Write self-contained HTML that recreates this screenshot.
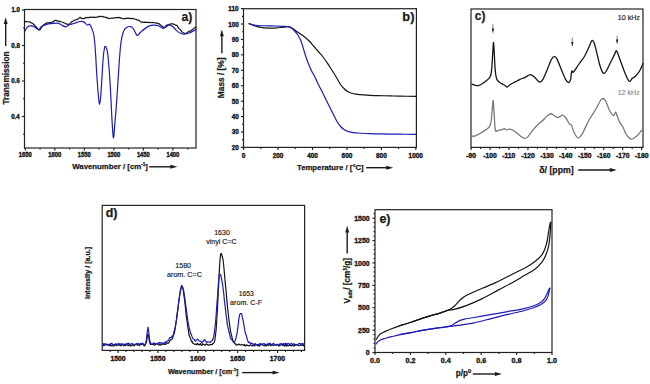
<!DOCTYPE html>
<html><head><meta charset="utf-8"><style>
html,body{margin:0;padding:0;background:#fff;}
body{width:650px;height:384px;overflow:hidden;}
svg{display:block;font-family:"Liberation Sans",sans-serif;}
</style></head><body>
<svg width="650" height="384" viewBox="0 0 650 384">
<rect x="0" y="0" width="650" height="384" fill="#fff"/>
<rect x="24.50" y="9.50" width="171.50" height="138.50" fill="none" stroke="#222222" stroke-width="1.20"/>
<line x1="21.90" y1="10.00" x2="24.50" y2="10.00" stroke="#222222" stroke-width="1.15"/>
<text x="11.403" y="2.157" font-size="6.076" font-weight="bold" fill="#1a1a1a" stroke="#1a1a1a" stroke-width="0.38" transform="translate(0,10.000) scale(1,1.100)">1.0</text>
<line x1="21.90" y1="45.50" x2="24.50" y2="45.50" stroke="#222222" stroke-width="1.15"/>
<text x="11.340" y="2.157" font-size="6.076" font-weight="bold" fill="#1a1a1a" stroke="#1a1a1a" stroke-width="0.38" transform="translate(0,45.500) scale(1,1.100)">0.8</text>
<line x1="21.90" y1="81.00" x2="24.50" y2="81.00" stroke="#222222" stroke-width="1.15"/>
<text x="11.373" y="2.157" font-size="6.076" font-weight="bold" fill="#1a1a1a" stroke="#1a1a1a" stroke-width="0.38" transform="translate(0,81.000) scale(1,1.100)">0.6</text>
<line x1="21.90" y1="116.50" x2="24.50" y2="116.50" stroke="#222222" stroke-width="1.15"/>
<text x="11.186" y="2.157" font-size="6.076" font-weight="bold" fill="#1a1a1a" stroke="#1a1a1a" stroke-width="0.38" transform="translate(0,116.500) scale(1,1.100)">0.4</text>
<line x1="23.00" y1="27.75" x2="24.50" y2="27.75" stroke="#222222" stroke-width="1.15"/>
<line x1="23.00" y1="63.25" x2="24.50" y2="63.25" stroke="#222222" stroke-width="1.15"/>
<line x1="23.00" y1="98.75" x2="24.50" y2="98.75" stroke="#222222" stroke-width="1.15"/>
<line x1="23.00" y1="134.25" x2="24.50" y2="134.25" stroke="#222222" stroke-width="1.15"/>
<line x1="25.30" y1="148.00" x2="25.30" y2="150.60" stroke="#222222" stroke-width="1.15"/>
<text x="18.805" y="2.053" font-size="5.782" font-weight="bold" fill="#1a1a1a" stroke="#1a1a1a" stroke-width="0.38" transform="translate(0,154.800) scale(1,1.100)">1650</text>
<line x1="54.83" y1="148.00" x2="54.83" y2="150.60" stroke="#222222" stroke-width="1.15"/>
<text x="48.330" y="2.053" font-size="5.782" font-weight="bold" fill="#1a1a1a" stroke="#1a1a1a" stroke-width="0.38" transform="translate(0,154.800) scale(1,1.100)">1600</text>
<line x1="84.35" y1="148.00" x2="84.35" y2="150.60" stroke="#222222" stroke-width="1.15"/>
<text x="77.855" y="2.053" font-size="5.782" font-weight="bold" fill="#1a1a1a" stroke="#1a1a1a" stroke-width="0.38" transform="translate(0,154.800) scale(1,1.100)">1550</text>
<line x1="113.88" y1="148.00" x2="113.88" y2="150.60" stroke="#222222" stroke-width="1.15"/>
<text x="107.380" y="2.053" font-size="5.782" font-weight="bold" fill="#1a1a1a" stroke="#1a1a1a" stroke-width="0.38" transform="translate(0,154.800) scale(1,1.100)">1500</text>
<line x1="143.40" y1="148.00" x2="143.40" y2="150.60" stroke="#222222" stroke-width="1.15"/>
<text x="136.905" y="2.053" font-size="5.782" font-weight="bold" fill="#1a1a1a" stroke="#1a1a1a" stroke-width="0.38" transform="translate(0,154.800) scale(1,1.100)">1450</text>
<line x1="172.93" y1="148.00" x2="172.93" y2="150.60" stroke="#222222" stroke-width="1.15"/>
<text x="166.430" y="2.053" font-size="5.782" font-weight="bold" fill="#1a1a1a" stroke="#1a1a1a" stroke-width="0.38" transform="translate(0,154.800) scale(1,1.100)">1400</text>
<line x1="40.06" y1="148.00" x2="40.06" y2="149.50" stroke="#222222" stroke-width="1.15"/>
<line x1="69.59" y1="148.00" x2="69.59" y2="149.50" stroke="#222222" stroke-width="1.15"/>
<line x1="99.11" y1="148.00" x2="99.11" y2="149.50" stroke="#222222" stroke-width="1.15"/>
<line x1="128.64" y1="148.00" x2="128.64" y2="149.50" stroke="#222222" stroke-width="1.15"/>
<line x1="158.16" y1="148.00" x2="158.16" y2="149.50" stroke="#222222" stroke-width="1.15"/>
<line x1="187.69" y1="148.00" x2="187.69" y2="149.50" stroke="#222222" stroke-width="1.15"/>
<text x="72.292" y="169.400" font-size="7.793" font-weight="bold" fill="#1a1a1a" stroke="#1a1a1a" stroke-width="0.25">Wavenumber / [cm<tspan font-size="4.676" dy="-3.507">-1</tspan><tspan dy="3.507">]</tspan></text>
<line x1="149.20" y1="166.80" x2="170.80" y2="166.80" stroke="#1a1a1a" stroke-width="1.40"/>
<path d="M177.30,166.80 L170.30,164.85 L170.30,168.75 Z" fill="#1a1a1a"/>
<text x="-0.093" y="0" font-size="8.244" font-weight="bold" fill="#1a1a1a" stroke="#1a1a1a" stroke-width="0.25" transform="translate(8.800,104.500) rotate(-90)">Transmission</text>
<line x1="5.70" y1="46.00" x2="5.70" y2="23.60" stroke="#1a1a1a" stroke-width="1.40"/>
<path d="M5.70,17.30 L3.75,24.10 L7.65,24.10 Z" fill="#1a1a1a"/>
<text x="181.542" y="20.700" font-size="12.221" font-weight="bold" fill="#1a1a1a" stroke="#1a1a1a" stroke-width="0.25">a)</text>
<path d="M25.00,21.32 L25.63,21.57 L26.53,21.50 L27.57,21.77 L28.60,21.99 L29.44,21.83 L30.34,22.09 L31.25,23.01 L32.12,22.99 L32.90,23.41 L33.71,24.57 L34.40,24.92 L35.07,25.94 L35.80,26.48 L36.47,27.37 L37.19,27.95 L37.91,29.17 L38.63,30.00 L39.30,30.02 L39.90,29.92 L40.44,29.23 L40.97,27.94 L41.54,27.50 L42.20,26.56 L42.84,25.73 L43.53,24.86 L44.26,24.76 L45.01,23.84 L45.77,23.46 L46.50,23.17 L47.56,22.79 L48.61,22.95 L49.68,22.65 L50.80,22.81 L51.60,22.28 L52.44,22.22 L53.30,21.73 L54.16,20.76 L55.00,20.44 L55.80,20.30 L56.92,20.85 L57.99,20.74 L59.04,21.24 L60.10,21.36 L60.96,21.76 L61.82,21.97 L62.68,22.24 L63.54,22.69 L64.40,22.96 L65.48,23.58 L66.55,23.86 L67.62,24.33 L68.70,24.25 L69.56,23.95 L70.42,23.07 L71.28,21.93 L72.14,21.65 L73.00,21.13 L73.88,20.68 L74.79,20.14 L75.68,19.98 L76.53,19.38 L77.30,19.53 L78.37,18.70 L79.29,17.82 L80.20,17.29 L81.09,18.06 L81.96,18.66 L83.00,18.31 L83.90,18.69 L84.88,18.12 L85.99,17.61 L87.30,17.46 L88.06,17.71 L88.90,17.72 L89.79,17.10 L90.72,17.46 L91.67,17.02 L92.63,17.45 L93.58,17.14 L94.50,17.47 L95.42,17.46 L96.37,17.03 L97.33,17.27 L98.28,16.68 L99.21,16.42 L100.10,16.71 L100.94,16.27 L101.70,16.39 L102.97,16.68 L104.00,17.10 L104.96,17.09 L106.00,17.28 L106.89,18.04 L107.76,17.85 L108.67,18.47 L109.67,18.54 L110.80,18.21 L111.62,18.22 L112.54,18.15 L113.52,18.09 L114.53,17.89 L115.54,17.70 L116.51,17.60 L117.41,17.73 L118.20,17.40 L119.46,17.54 L120.44,18.11 L121.39,18.17 L122.50,18.46 L123.39,18.97 L124.35,18.63 L125.36,18.58 L126.38,18.12 L127.40,18.35 L128.40,18.46 L129.39,18.10 L130.39,18.56 L131.39,18.64 L132.37,18.33 L133.32,18.84 L134.20,18.88 L135.19,19.26 L136.13,19.32 L137.02,19.89 L137.84,20.24 L138.60,20.07 L139.51,20.66 L140.26,21.67 L141.50,22.32 L142.22,21.94 L143.07,22.18 L144.02,22.34 L145.02,22.21 L146.04,22.28 L147.06,22.28 L148.02,22.36 L148.90,22.57 L149.98,22.41 L151.00,22.50 L151.99,22.80 L152.93,22.31 L153.83,22.75 L154.70,22.96 L155.67,22.82 L156.56,22.92 L157.41,23.55 L158.24,23.43 L159.10,23.78 L159.83,24.44 L160.57,25.27 L161.30,25.55 L162.03,26.36 L162.77,26.86 L163.50,27.43 L164.38,26.99 L165.26,26.77 L166.14,25.61 L167.02,25.06 L167.90,24.81 L169.00,24.62 L170.11,24.07 L171.21,23.79 L172.30,23.73 L173.18,24.13 L174.06,24.09 L174.93,24.80 L175.78,25.22 L176.60,25.28 L177.25,25.92 L177.88,27.00 L178.49,27.68 L179.09,28.61 L179.69,29.08 L180.30,29.64 L181.03,30.57 L181.75,31.76 L182.48,32.17 L183.22,32.83 L184.00,33.24 L185.03,33.29 L186.11,32.98 L187.20,32.84 L188.30,31.76 L189.19,31.16 L190.11,31.23 L191.01,30.55 L191.89,30.00 L192.70,29.05 L193.68,28.76 L194.62,28.12 L195.43,27.08 L196.00,27.07" fill="none" stroke="#151515" stroke-width="1.20" stroke-linejoin="round" stroke-linecap="round" />
<path d="M25.00,31.00 C25.48,30.25 26.58,27.30 27.90,26.50 C29.22,25.70 31.58,25.97 32.90,26.20 C34.22,26.43 34.85,27.33 35.80,27.90 C36.75,28.47 37.65,29.83 38.60,29.60 C39.55,29.37 40.18,27.38 41.50,26.50 C42.82,25.62 44.83,24.78 46.50,24.30 C48.17,23.82 49.58,23.78 51.50,23.60 C53.42,23.42 56.33,22.97 58.00,23.20 C59.67,23.43 60.20,24.40 61.50,25.00 C62.80,25.60 64.48,26.83 65.80,26.80 C67.12,26.77 67.97,25.38 69.40,24.80 C70.83,24.22 72.60,23.85 74.40,23.30 C76.20,22.75 78.63,21.73 80.20,21.50 C81.77,21.27 82.62,21.32 83.80,21.90 C84.98,22.48 86.35,24.60 87.30,25.00 C88.25,25.40 88.78,23.82 89.50,24.30 C90.22,24.78 90.88,26.12 91.60,27.90 C92.32,29.68 93.20,31.65 93.80,35.00 C94.40,38.35 94.67,40.83 95.20,48.00 C95.73,55.17 96.43,69.67 97.00,78.00 C97.57,86.33 98.18,93.62 98.60,98.00 C99.02,102.38 99.17,104.30 99.50,104.30 C99.83,104.30 100.22,102.05 100.60,98.00 C100.98,93.95 101.37,86.67 101.80,80.00 C102.23,73.33 102.75,63.33 103.20,58.00 C103.65,52.67 104.12,49.95 104.50,48.00 C104.88,46.05 105.15,46.22 105.50,46.30 C105.85,46.38 106.18,46.88 106.60,48.50 C107.02,50.12 107.40,49.92 108.00,56.00 C108.60,62.08 109.53,74.33 110.20,85.00 C110.87,95.67 111.47,111.20 112.00,120.00 C112.53,128.80 112.93,137.13 113.40,137.80 C113.87,138.47 114.30,129.47 114.80,124.00 C115.30,118.53 115.83,112.67 116.40,105.00 C116.97,97.33 117.67,86.00 118.20,78.00 C118.73,70.00 119.12,63.08 119.60,57.00 C120.08,50.92 120.48,45.67 121.10,41.50 C121.72,37.33 122.45,34.30 123.30,32.00 C124.15,29.70 124.98,28.60 126.20,27.70 C127.42,26.80 129.38,26.37 130.60,26.60 C131.82,26.83 132.68,28.03 133.50,29.10 C134.32,30.17 134.83,31.95 135.50,33.00 C136.17,34.05 136.62,35.57 137.50,35.40 C138.38,35.23 139.15,33.42 140.80,32.00 C142.45,30.58 145.33,28.03 147.40,26.90 C149.47,25.77 151.37,25.38 153.20,25.20 C155.03,25.02 156.68,25.27 158.40,25.80 C160.12,26.33 161.80,28.50 163.50,28.40 C165.20,28.30 167.13,25.57 168.60,25.20 C170.07,24.83 170.97,25.30 172.30,26.20 C173.63,27.10 175.15,29.38 176.60,30.60 C178.05,31.82 179.65,32.90 181.00,33.50 C182.35,34.10 183.23,34.32 184.70,34.20 C186.17,34.08 187.92,33.57 189.80,32.80 C191.68,32.03 194.97,30.13 196.00,29.60" fill="none" stroke="#1c1cb4" stroke-width="1.20" stroke-linejoin="round" stroke-linecap="round" />
<rect x="243.50" y="8.70" width="172.90" height="138.70" fill="none" stroke="#222222" stroke-width="1.20"/>
<line x1="240.90" y1="147.40" x2="243.50" y2="147.40" stroke="#222222" stroke-width="1.15"/>
<text x="231.776" y="2.261" font-size="6.370" font-weight="bold" fill="#1a1a1a" stroke="#1a1a1a" stroke-width="0.38" transform="translate(0,147.400) scale(1,1.100)">20</text>
<line x1="240.90" y1="131.98" x2="243.50" y2="131.98" stroke="#222222" stroke-width="1.15"/>
<text x="231.776" y="2.261" font-size="6.370" font-weight="bold" fill="#1a1a1a" stroke="#1a1a1a" stroke-width="0.38" transform="translate(0,131.978) scale(1,1.100)">30</text>
<line x1="240.90" y1="116.56" x2="243.50" y2="116.56" stroke="#222222" stroke-width="1.15"/>
<text x="231.776" y="2.261" font-size="6.370" font-weight="bold" fill="#1a1a1a" stroke="#1a1a1a" stroke-width="0.38" transform="translate(0,116.556) scale(1,1.100)">40</text>
<line x1="240.90" y1="101.13" x2="243.50" y2="101.13" stroke="#222222" stroke-width="1.15"/>
<text x="231.776" y="2.261" font-size="6.370" font-weight="bold" fill="#1a1a1a" stroke="#1a1a1a" stroke-width="0.38" transform="translate(0,101.134) scale(1,1.100)">50</text>
<line x1="240.90" y1="85.71" x2="243.50" y2="85.71" stroke="#222222" stroke-width="1.15"/>
<text x="231.776" y="2.261" font-size="6.370" font-weight="bold" fill="#1a1a1a" stroke="#1a1a1a" stroke-width="0.38" transform="translate(0,85.712) scale(1,1.100)">60</text>
<line x1="240.90" y1="70.29" x2="243.50" y2="70.29" stroke="#222222" stroke-width="1.15"/>
<text x="231.776" y="2.261" font-size="6.370" font-weight="bold" fill="#1a1a1a" stroke="#1a1a1a" stroke-width="0.38" transform="translate(0,70.290) scale(1,1.100)">70</text>
<line x1="240.90" y1="54.87" x2="243.50" y2="54.87" stroke="#222222" stroke-width="1.15"/>
<text x="231.776" y="2.261" font-size="6.370" font-weight="bold" fill="#1a1a1a" stroke="#1a1a1a" stroke-width="0.38" transform="translate(0,54.868) scale(1,1.100)">80</text>
<line x1="240.90" y1="39.45" x2="243.50" y2="39.45" stroke="#222222" stroke-width="1.15"/>
<text x="231.776" y="2.261" font-size="6.370" font-weight="bold" fill="#1a1a1a" stroke="#1a1a1a" stroke-width="0.38" transform="translate(0,39.446) scale(1,1.100)">90</text>
<line x1="240.90" y1="24.02" x2="243.50" y2="24.02" stroke="#222222" stroke-width="1.15"/>
<text x="228.233" y="2.261" font-size="6.370" font-weight="bold" fill="#1a1a1a" stroke="#1a1a1a" stroke-width="0.38" transform="translate(0,24.024) scale(1,1.100)">100</text>
<line x1="240.90" y1="8.60" x2="243.50" y2="8.60" stroke="#222222" stroke-width="1.15"/>
<text x="228.233" y="2.261" font-size="6.370" font-weight="bold" fill="#1a1a1a" stroke="#1a1a1a" stroke-width="0.38" transform="translate(0,8.602) scale(1,1.100)">110</text>
<line x1="242.00" y1="139.69" x2="243.50" y2="139.69" stroke="#222222" stroke-width="1.15"/>
<line x1="242.00" y1="124.27" x2="243.50" y2="124.27" stroke="#222222" stroke-width="1.15"/>
<line x1="242.00" y1="108.84" x2="243.50" y2="108.84" stroke="#222222" stroke-width="1.15"/>
<line x1="242.00" y1="93.42" x2="243.50" y2="93.42" stroke="#222222" stroke-width="1.15"/>
<line x1="242.00" y1="78.00" x2="243.50" y2="78.00" stroke="#222222" stroke-width="1.15"/>
<line x1="242.00" y1="62.58" x2="243.50" y2="62.58" stroke="#222222" stroke-width="1.15"/>
<line x1="242.00" y1="47.16" x2="243.50" y2="47.16" stroke="#222222" stroke-width="1.15"/>
<line x1="242.00" y1="31.73" x2="243.50" y2="31.73" stroke="#222222" stroke-width="1.15"/>
<line x1="242.00" y1="16.31" x2="243.50" y2="16.31" stroke="#222222" stroke-width="1.15"/>
<line x1="243.60" y1="147.40" x2="243.60" y2="150.00" stroke="#222222" stroke-width="1.15"/>
<text x="241.806" y="2.296" font-size="6.468" font-weight="bold" fill="#1a1a1a" stroke="#1a1a1a" stroke-width="0.38" transform="translate(0,155.400) scale(1,1.100)">0</text>
<line x1="278.04" y1="147.40" x2="278.04" y2="150.00" stroke="#222222" stroke-width="1.15"/>
<text x="272.669" y="2.296" font-size="6.468" font-weight="bold" fill="#1a1a1a" stroke="#1a1a1a" stroke-width="0.38" transform="translate(0,155.400) scale(1,1.100)">200</text>
<line x1="312.49" y1="147.40" x2="312.49" y2="150.00" stroke="#222222" stroke-width="1.15"/>
<text x="307.176" y="2.296" font-size="6.468" font-weight="bold" fill="#1a1a1a" stroke="#1a1a1a" stroke-width="0.38" transform="translate(0,155.400) scale(1,1.100)">400</text>
<line x1="346.93" y1="147.40" x2="346.93" y2="150.00" stroke="#222222" stroke-width="1.15"/>
<text x="341.550" y="2.296" font-size="6.468" font-weight="bold" fill="#1a1a1a" stroke="#1a1a1a" stroke-width="0.38" transform="translate(0,155.400) scale(1,1.100)">600</text>
<line x1="381.38" y1="147.40" x2="381.38" y2="150.00" stroke="#222222" stroke-width="1.15"/>
<text x="376.010" y="2.296" font-size="6.468" font-weight="bold" fill="#1a1a1a" stroke="#1a1a1a" stroke-width="0.38" transform="translate(0,155.400) scale(1,1.100)">800</text>
<line x1="415.82" y1="147.40" x2="415.82" y2="150.00" stroke="#222222" stroke-width="1.15"/>
<text x="408.555" y="2.296" font-size="6.468" font-weight="bold" fill="#1a1a1a" stroke="#1a1a1a" stroke-width="0.38" transform="translate(0,155.400) scale(1,1.100)">1000</text>
<line x1="260.82" y1="147.40" x2="260.82" y2="148.90" stroke="#222222" stroke-width="1.15"/>
<line x1="295.27" y1="147.40" x2="295.27" y2="148.90" stroke="#222222" stroke-width="1.15"/>
<line x1="329.71" y1="147.40" x2="329.71" y2="148.90" stroke="#222222" stroke-width="1.15"/>
<line x1="364.15" y1="147.40" x2="364.15" y2="148.90" stroke="#222222" stroke-width="1.15"/>
<line x1="398.60" y1="147.40" x2="398.60" y2="148.90" stroke="#222222" stroke-width="1.15"/>
<text x="297.013" y="170.300" font-size="7.757" font-weight="bold" fill="#1a1a1a" stroke="#1a1a1a" stroke-width="0.25">Temperature / [°C]</text>
<line x1="366.10" y1="167.70" x2="386.70" y2="167.70" stroke="#1a1a1a" stroke-width="1.40"/>
<path d="M393.20,167.70 L386.20,165.75 L386.20,169.65 Z" fill="#1a1a1a"/>
<text x="-0.556" y="0" font-size="8.307" font-weight="bold" fill="#1a1a1a" stroke="#1a1a1a" stroke-width="0.25" transform="translate(223.900,97.600) rotate(-90)">Mass / [%]</text>
<line x1="221.90" y1="53.30" x2="221.90" y2="35.70" stroke="#1a1a1a" stroke-width="1.40"/>
<path d="M221.90,29.40 L219.95,36.20 L223.85,36.20 Z" fill="#1a1a1a"/>
<text x="402.356" y="20.900" font-size="12.800" font-weight="bold" fill="#1a1a1a" stroke="#1a1a1a" stroke-width="0.25">b)</text>
<path d="M249.10,23.70 C249.75,23.95 251.48,24.68 253.00,25.20 C254.52,25.72 256.37,26.37 258.20,26.80 C260.03,27.23 261.87,27.57 264.00,27.80 C266.13,28.03 268.83,28.18 271.00,28.20 C273.17,28.22 275.18,28.05 277.00,27.90 C278.82,27.75 280.40,27.47 281.90,27.30 C283.40,27.13 284.78,26.98 286.00,26.90 C287.22,26.82 288.03,26.48 289.20,26.80 C290.37,27.12 291.48,27.85 293.00,28.80 C294.52,29.75 296.47,31.22 298.30,32.50 C300.13,33.78 302.18,35.08 304.00,36.50 C305.82,37.92 307.53,39.33 309.20,41.00 C310.87,42.67 312.48,44.75 314.00,46.50 C315.52,48.25 316.80,49.75 318.30,51.50 C319.80,53.25 321.48,55.05 323.00,57.00 C324.52,58.95 325.90,60.98 327.40,63.20 C328.90,65.42 330.48,67.92 332.00,70.30 C333.52,72.68 335.08,75.13 336.50,77.50 C337.92,79.87 339.13,82.53 340.50,84.50 C341.87,86.47 343.45,88.08 344.70,89.30 C345.95,90.52 346.85,91.13 348.00,91.80 C349.15,92.47 350.27,92.90 351.60,93.30 C352.93,93.70 354.40,93.97 356.00,94.20 C357.60,94.43 358.87,94.50 361.20,94.70 C363.53,94.90 367.27,95.25 370.00,95.40 C372.73,95.55 374.27,95.52 377.60,95.60 C380.93,95.68 386.35,95.82 390.00,95.90 C393.65,95.98 395.17,96.02 399.50,96.10 C403.83,96.18 413.25,96.35 416.00,96.40" fill="none" stroke="#151515" stroke-width="1.20" stroke-linejoin="round" stroke-linecap="round" />
<path d="M249.10,23.70 C249.75,23.88 251.48,24.50 253.00,24.80 C254.52,25.10 255.87,25.33 258.20,25.50 C260.53,25.67 263.97,25.72 267.00,25.80 C270.03,25.88 273.73,25.92 276.40,26.00 C279.07,26.08 280.87,26.17 283.00,26.30 C285.13,26.43 287.70,26.43 289.20,26.80 C290.70,27.17 291.10,27.80 292.00,28.50 C292.90,29.20 293.68,30.00 294.60,31.00 C295.52,32.00 296.58,33.15 297.50,34.50 C298.42,35.85 299.35,37.52 300.10,39.10 C300.85,40.68 301.38,42.18 302.00,44.00 C302.62,45.82 303.22,48.08 303.80,50.00 C304.38,51.92 304.90,53.67 305.50,55.50 C306.10,57.33 306.70,59.12 307.40,61.00 C308.10,62.88 308.93,65.00 309.70,66.80 C310.47,68.60 311.17,70.18 312.00,71.80 C312.83,73.42 313.80,74.72 314.70,76.50 C315.60,78.28 316.27,80.17 317.40,82.50 C318.53,84.83 320.13,87.78 321.50,90.50 C322.87,93.22 324.23,96.05 325.60,98.80 C326.97,101.55 328.33,104.25 329.70,107.00 C331.07,109.75 332.58,112.88 333.80,115.30 C335.02,117.72 335.87,119.63 337.00,121.50 C338.13,123.37 339.43,125.17 340.60,126.50 C341.77,127.83 342.85,128.72 344.00,129.50 C345.15,130.28 346.17,130.73 347.50,131.20 C348.83,131.67 350.18,132.00 352.00,132.30 C353.82,132.60 355.40,132.78 358.40,133.00 C361.40,133.22 366.35,133.45 370.00,133.60 C373.65,133.75 375.30,133.80 380.30,133.90 C385.30,134.00 394.05,134.12 400.00,134.20 C405.95,134.28 413.33,134.37 416.00,134.40" fill="none" stroke="#1c1cb4" stroke-width="1.20" stroke-linejoin="round" stroke-linecap="round" />
<rect x="471.00" y="9.00" width="172.00" height="138.40" fill="none" stroke="#222222" stroke-width="1.20"/>
<line x1="471.10" y1="147.40" x2="471.10" y2="150.00" stroke="#222222" stroke-width="1.15"/>
<text x="466.220" y="2.401" font-size="6.762" font-weight="bold" fill="#1a1a1a" stroke="#1a1a1a" stroke-width="0.38" transform="translate(0,155.350) scale(1,1.100)">-90</text>
<line x1="490.05" y1="147.40" x2="490.05" y2="150.00" stroke="#222222" stroke-width="1.15"/>
<text x="483.290" y="2.401" font-size="6.762" font-weight="bold" fill="#1a1a1a" stroke="#1a1a1a" stroke-width="0.38" transform="translate(0,155.350) scale(1,1.100)">-100</text>
<line x1="509.00" y1="147.40" x2="509.00" y2="150.00" stroke="#222222" stroke-width="1.15"/>
<text x="502.240" y="2.401" font-size="6.762" font-weight="bold" fill="#1a1a1a" stroke="#1a1a1a" stroke-width="0.38" transform="translate(0,155.350) scale(1,1.100)">-110</text>
<line x1="527.95" y1="147.40" x2="527.95" y2="150.00" stroke="#222222" stroke-width="1.15"/>
<text x="521.190" y="2.401" font-size="6.762" font-weight="bold" fill="#1a1a1a" stroke="#1a1a1a" stroke-width="0.38" transform="translate(0,155.350) scale(1,1.100)">-120</text>
<line x1="546.90" y1="147.40" x2="546.90" y2="150.00" stroke="#222222" stroke-width="1.15"/>
<text x="540.140" y="2.401" font-size="6.762" font-weight="bold" fill="#1a1a1a" stroke="#1a1a1a" stroke-width="0.38" transform="translate(0,155.350) scale(1,1.100)">-130</text>
<line x1="565.85" y1="147.40" x2="565.85" y2="150.00" stroke="#222222" stroke-width="1.15"/>
<text x="559.090" y="2.401" font-size="6.762" font-weight="bold" fill="#1a1a1a" stroke="#1a1a1a" stroke-width="0.38" transform="translate(0,155.350) scale(1,1.100)">-140</text>
<line x1="584.80" y1="147.40" x2="584.80" y2="150.00" stroke="#222222" stroke-width="1.15"/>
<text x="578.040" y="2.401" font-size="6.762" font-weight="bold" fill="#1a1a1a" stroke="#1a1a1a" stroke-width="0.38" transform="translate(0,155.350) scale(1,1.100)">-150</text>
<line x1="603.75" y1="147.40" x2="603.75" y2="150.00" stroke="#222222" stroke-width="1.15"/>
<text x="596.990" y="2.401" font-size="6.762" font-weight="bold" fill="#1a1a1a" stroke="#1a1a1a" stroke-width="0.38" transform="translate(0,155.350) scale(1,1.100)">-160</text>
<line x1="622.70" y1="147.40" x2="622.70" y2="150.00" stroke="#222222" stroke-width="1.15"/>
<text x="615.940" y="2.401" font-size="6.762" font-weight="bold" fill="#1a1a1a" stroke="#1a1a1a" stroke-width="0.38" transform="translate(0,155.350) scale(1,1.100)">-170</text>
<line x1="641.65" y1="147.40" x2="641.65" y2="150.00" stroke="#222222" stroke-width="1.15"/>
<text x="634.890" y="2.401" font-size="6.762" font-weight="bold" fill="#1a1a1a" stroke="#1a1a1a" stroke-width="0.38" transform="translate(0,155.350) scale(1,1.100)">-180</text>
<line x1="480.58" y1="147.40" x2="480.58" y2="148.90" stroke="#222222" stroke-width="1.15"/>
<line x1="499.53" y1="147.40" x2="499.53" y2="148.90" stroke="#222222" stroke-width="1.15"/>
<line x1="518.48" y1="147.40" x2="518.48" y2="148.90" stroke="#222222" stroke-width="1.15"/>
<line x1="537.43" y1="147.40" x2="537.43" y2="148.90" stroke="#222222" stroke-width="1.15"/>
<line x1="556.38" y1="147.40" x2="556.38" y2="148.90" stroke="#222222" stroke-width="1.15"/>
<line x1="575.33" y1="147.40" x2="575.33" y2="148.90" stroke="#222222" stroke-width="1.15"/>
<line x1="594.27" y1="147.40" x2="594.27" y2="148.90" stroke="#222222" stroke-width="1.15"/>
<line x1="613.23" y1="147.40" x2="613.23" y2="148.90" stroke="#222222" stroke-width="1.15"/>
<line x1="632.17" y1="147.40" x2="632.17" y2="148.90" stroke="#222222" stroke-width="1.15"/>
<text x="539.334" y="172.700" font-size="8.722" font-weight="bold" fill="#1a1a1a" stroke="#1a1a1a" stroke-width="0.25">δ/ [ppm]</text>
<line x1="578.20" y1="170.00" x2="610.30" y2="170.00" stroke="#1a1a1a" stroke-width="1.40"/>
<path d="M616.80,170.00 L609.80,168.05 L609.80,171.95 Z" fill="#1a1a1a"/>
<text x="474.836" y="20.100" font-size="11.871" font-weight="bold" fill="#1a1a1a" stroke="#1a1a1a" stroke-width="0.25">c)</text>
<text x="617.757" y="20.400" font-size="7.133" font-weight="normal" fill="#151515" stroke="#151515" stroke-width="0.15">10 kHz</text>
<text x="617.659" y="94.600" font-size="7.099" font-weight="normal" fill="#888" stroke="#888" stroke-width="0.15">12 kHz</text>
<line x1="492.90" y1="24.20" x2="492.90" y2="29.00" stroke="#808080" stroke-width="0.95"/>
<path d="M492.90,33.50 L491.75,28.50 L494.05,28.50 Z" fill="#1a1a1a"/>
<line x1="572.30" y1="37.70" x2="572.30" y2="42.50" stroke="#808080" stroke-width="0.95"/>
<path d="M572.30,47.00 L571.15,42.00 L573.45,42.00 Z" fill="#1a1a1a"/>
<line x1="617.10" y1="35.60" x2="617.10" y2="40.10" stroke="#808080" stroke-width="0.95"/>
<path d="M617.10,44.60 L615.95,39.60 L618.25,39.60 Z" fill="#1a1a1a"/>
<path d="M472.10,84.20 C472.58,84.37 473.97,84.97 475.00,85.20 C476.03,85.43 477.05,85.88 478.30,85.60 C479.55,85.32 481.10,84.37 482.50,83.50 C483.90,82.63 485.53,81.35 486.70,80.40 C487.87,79.45 488.82,78.70 489.50,77.80 C490.18,76.90 490.42,76.63 490.80,75.00 C491.18,73.37 491.50,71.33 491.80,68.00 C492.10,64.67 492.35,59.00 492.60,55.00 C492.85,51.00 493.13,46.03 493.30,44.00 C493.47,41.97 493.48,42.13 493.60,42.80 C493.72,43.47 493.83,45.13 494.00,48.00 C494.17,50.87 494.37,56.00 494.60,60.00 C494.83,64.00 495.10,69.00 495.40,72.00 C495.70,75.00 496.00,76.53 496.40,78.00 C496.80,79.47 496.98,79.88 497.80,80.80 C498.62,81.72 500.20,82.80 501.30,83.50 C502.40,84.20 503.43,84.42 504.40,85.00 C505.37,85.58 506.23,87.00 507.10,87.00 C507.97,87.00 508.48,85.75 509.60,85.00 C510.72,84.25 512.57,83.17 513.80,82.50 C515.03,81.83 515.97,81.52 517.00,81.00 C518.03,80.48 518.63,80.02 520.00,79.40 C521.37,78.78 523.47,78.10 525.20,77.30 C526.93,76.50 528.83,74.60 530.40,74.60 C531.97,74.60 533.42,76.32 534.60,77.30 C535.78,78.28 536.63,79.70 537.50,80.50 C538.37,81.30 538.90,82.28 539.80,82.10 C540.70,81.92 541.68,81.42 542.90,79.40 C544.12,77.38 545.70,73.30 547.10,70.00 C548.50,66.70 550.08,61.87 551.30,59.60 C552.52,57.33 553.40,56.40 554.40,56.40 C555.40,56.40 556.12,57.33 557.30,59.60 C558.48,61.87 560.12,66.70 561.50,70.00 C562.88,73.30 564.47,77.32 565.60,79.40 C566.73,81.48 567.50,82.33 568.30,82.50 C569.10,82.67 569.90,81.82 570.40,80.40 C570.90,78.98 571.05,75.57 571.30,74.00 C571.55,72.43 571.63,71.28 571.90,71.00 C572.17,70.72 572.38,72.47 572.90,72.30 C573.42,72.13 573.95,71.42 575.00,70.00 C576.05,68.58 577.63,66.00 579.20,63.75 C580.77,61.50 582.85,59.11 584.40,56.50 C585.95,53.89 587.28,50.72 588.50,48.10 C589.72,45.48 590.75,41.67 591.70,40.80 C592.65,39.93 593.33,40.82 594.20,42.90 C595.07,44.98 595.93,49.48 596.90,53.30 C597.87,57.12 598.97,62.50 600.00,65.80 C601.03,69.10 602.05,72.23 603.10,73.10 C604.15,73.97 605.08,72.73 606.30,71.00 C607.52,69.27 609.02,65.47 610.40,62.70 C611.78,59.93 613.62,56.42 614.60,54.40 C615.58,52.38 615.78,50.78 616.30,50.60 C616.82,50.42 616.95,51.45 617.70,53.30 C618.45,55.15 619.58,58.40 620.80,61.70 C622.02,65.00 623.60,69.83 625.00,73.10 C626.40,76.37 627.98,80.43 629.20,81.30 C630.42,82.17 631.27,79.13 632.30,78.30 C633.33,77.47 634.18,77.52 635.40,76.30 C636.62,75.08 638.33,73.13 639.60,71.00 C640.87,68.87 642.43,64.75 643.00,63.50" fill="none" stroke="#151515" stroke-width="1.30" stroke-linejoin="round" stroke-linecap="round" />
<path d="M471.60,136.10 C472.12,136.10 473.40,136.49 474.70,136.10 C476.00,135.71 477.83,134.62 479.40,133.75 C480.97,132.88 482.67,131.81 484.10,130.90 C485.53,129.99 487.02,129.20 488.00,128.30 C488.98,127.40 489.45,126.88 490.00,125.50 C490.55,124.12 490.93,122.58 491.30,120.00 C491.67,117.42 491.93,113.08 492.20,110.00 C492.47,106.92 492.72,102.97 492.90,101.50 C493.08,100.03 493.15,100.12 493.30,101.20 C493.45,102.28 493.62,105.20 493.80,108.00 C493.98,110.80 494.20,114.75 494.40,118.00 C494.60,121.25 494.77,125.30 495.00,127.50 C495.23,129.70 495.28,130.73 495.80,131.20 C496.32,131.67 497.18,130.53 498.10,130.30 C499.02,130.07 500.25,130.06 501.30,129.80 C502.35,129.54 503.50,128.75 504.40,128.75 C505.30,128.75 505.92,129.74 506.70,129.80 C507.48,129.86 508.18,129.10 509.10,129.10 C510.02,129.10 510.90,129.15 512.20,129.80 C513.50,130.45 515.33,131.82 516.90,133.00 C518.47,134.18 520.30,136.00 521.60,136.90 C522.90,137.80 523.67,138.40 524.70,138.40 C525.73,138.40 526.50,138.20 527.80,136.90 C529.10,135.60 530.93,132.55 532.50,130.60 C534.07,128.65 535.50,126.88 537.20,125.20 C538.90,123.52 541.02,122.07 542.70,120.50 C544.38,118.93 545.93,116.92 547.30,115.80 C548.67,114.67 549.72,113.75 550.90,113.75 C552.08,113.75 553.30,115.17 554.40,115.80 C555.50,116.42 556.57,117.37 557.50,117.50 C558.43,117.63 559.15,117.00 560.00,116.60 C560.85,116.20 561.60,114.87 562.60,115.10 C563.60,115.33 564.87,116.53 566.00,118.00 C567.13,119.47 568.47,122.68 569.40,123.90 C570.33,125.12 570.90,124.03 571.60,125.30 C572.30,126.57 572.57,129.42 573.60,131.50 C574.63,133.58 576.38,137.37 577.80,137.80 C579.22,138.23 580.27,136.98 582.10,134.10 C583.93,131.22 586.55,124.60 588.80,120.50 C591.05,116.40 593.62,112.88 595.60,109.50 C597.58,106.12 599.43,102.03 600.70,100.20 C601.97,98.37 602.35,98.35 603.20,98.50 C604.05,98.65 604.82,99.27 605.80,101.10 C606.78,102.93 607.83,107.10 609.10,109.50 C610.37,111.90 612.32,115.07 613.40,115.50 C614.48,115.93 614.95,111.97 615.60,112.10 C616.25,112.23 616.55,114.47 617.30,116.30 C618.05,118.13 619.20,121.40 620.10,123.10 C621.00,124.80 621.70,124.67 622.70,126.50 C623.70,128.33 624.70,132.00 626.10,134.10 C627.50,136.20 629.42,138.68 631.10,139.10 C632.78,139.52 634.50,138.00 636.20,136.60 C637.90,135.20 640.17,131.92 641.30,130.70 C642.43,129.48 642.72,129.53 643.00,129.30" fill="none" stroke="#7a7a7a" stroke-width="1.30" stroke-linejoin="round" stroke-linecap="round" />
<rect x="102.20" y="205.40" width="202.40" height="145.00" fill="none" stroke="#222222" stroke-width="1.20"/>
<line x1="118.10" y1="350.40" x2="118.10" y2="353.00" stroke="#222222" stroke-width="1.15"/>
<text x="110.394" y="2.435" font-size="6.860" font-weight="bold" fill="#1a1a1a" stroke="#1a1a1a" stroke-width="0.38" transform="translate(0,358.500) scale(1,1.100)">1500</text>
<line x1="157.95" y1="350.40" x2="157.95" y2="353.00" stroke="#222222" stroke-width="1.15"/>
<text x="150.244" y="2.435" font-size="6.860" font-weight="bold" fill="#1a1a1a" stroke="#1a1a1a" stroke-width="0.38" transform="translate(0,358.500) scale(1,1.100)">1550</text>
<line x1="197.80" y1="350.40" x2="197.80" y2="353.00" stroke="#222222" stroke-width="1.15"/>
<text x="190.094" y="2.435" font-size="6.860" font-weight="bold" fill="#1a1a1a" stroke="#1a1a1a" stroke-width="0.38" transform="translate(0,358.500) scale(1,1.100)">1600</text>
<line x1="237.65" y1="350.40" x2="237.65" y2="353.00" stroke="#222222" stroke-width="1.15"/>
<text x="229.944" y="2.435" font-size="6.860" font-weight="bold" fill="#1a1a1a" stroke="#1a1a1a" stroke-width="0.38" transform="translate(0,358.500) scale(1,1.100)">1650</text>
<line x1="277.50" y1="350.40" x2="277.50" y2="353.00" stroke="#222222" stroke-width="1.15"/>
<text x="269.794" y="2.435" font-size="6.860" font-weight="bold" fill="#1a1a1a" stroke="#1a1a1a" stroke-width="0.38" transform="translate(0,358.500) scale(1,1.100)">1700</text>
<line x1="110.13" y1="350.40" x2="110.13" y2="351.90" stroke="#222222" stroke-width="1.15"/>
<line x1="126.07" y1="350.40" x2="126.07" y2="351.90" stroke="#222222" stroke-width="1.15"/>
<line x1="134.04" y1="350.40" x2="134.04" y2="351.90" stroke="#222222" stroke-width="1.15"/>
<line x1="142.01" y1="350.40" x2="142.01" y2="351.90" stroke="#222222" stroke-width="1.15"/>
<line x1="149.98" y1="350.40" x2="149.98" y2="351.90" stroke="#222222" stroke-width="1.15"/>
<line x1="165.92" y1="350.40" x2="165.92" y2="351.90" stroke="#222222" stroke-width="1.15"/>
<line x1="173.89" y1="350.40" x2="173.89" y2="351.90" stroke="#222222" stroke-width="1.15"/>
<line x1="181.86" y1="350.40" x2="181.86" y2="351.90" stroke="#222222" stroke-width="1.15"/>
<line x1="189.83" y1="350.40" x2="189.83" y2="351.90" stroke="#222222" stroke-width="1.15"/>
<line x1="205.77" y1="350.40" x2="205.77" y2="351.90" stroke="#222222" stroke-width="1.15"/>
<line x1="213.74" y1="350.40" x2="213.74" y2="351.90" stroke="#222222" stroke-width="1.15"/>
<line x1="221.71" y1="350.40" x2="221.71" y2="351.90" stroke="#222222" stroke-width="1.15"/>
<line x1="229.68" y1="350.40" x2="229.68" y2="351.90" stroke="#222222" stroke-width="1.15"/>
<line x1="245.62" y1="350.40" x2="245.62" y2="351.90" stroke="#222222" stroke-width="1.15"/>
<line x1="253.59" y1="350.40" x2="253.59" y2="351.90" stroke="#222222" stroke-width="1.15"/>
<line x1="261.56" y1="350.40" x2="261.56" y2="351.90" stroke="#222222" stroke-width="1.15"/>
<line x1="269.53" y1="350.40" x2="269.53" y2="351.90" stroke="#222222" stroke-width="1.15"/>
<line x1="285.47" y1="350.40" x2="285.47" y2="351.90" stroke="#222222" stroke-width="1.15"/>
<line x1="293.44" y1="350.40" x2="293.44" y2="351.90" stroke="#222222" stroke-width="1.15"/>
<line x1="301.41" y1="350.40" x2="301.41" y2="351.90" stroke="#222222" stroke-width="1.15"/>
<text x="167.993" y="374.400" font-size="7.268" font-weight="bold" fill="#1a1a1a" stroke="#1a1a1a" stroke-width="0.25">Wavenumber / [cm<tspan font-size="4.361" dy="-3.270">-1</tspan><tspan dy="3.270">]</tspan></text>
<line x1="242.20" y1="372.60" x2="273.10" y2="372.60" stroke="#1a1a1a" stroke-width="1.40"/>
<path d="M279.60,372.60 L272.60,370.65 L272.60,374.55 Z" fill="#1a1a1a"/>
<text x="-0.477" y="0" font-size="7.128" font-weight="bold" fill="#1a1a1a" stroke="#1a1a1a" stroke-width="0.25" transform="translate(90.400,298.500) rotate(-90)">Intensity / [a.u.]</text>
<text x="105.690" y="217.200" font-size="12.426" font-weight="bold" fill="#1a1a1a" stroke="#1a1a1a" stroke-width="0.25">d)</text>
<text x="175.258" y="267.700" font-size="7.111" font-weight="normal" fill="#151515" stroke="#151515" stroke-width="0.15">1580</text>
<text x="166.994" y="276.700" font-size="7.194" font-weight="normal" fill="#151515" stroke="#151515" stroke-width="0.15">arom. C=C</text>
<text x="214.162" y="234.900" font-size="7.064" font-weight="normal" fill="#151515" stroke="#151515" stroke-width="0.15">1630</text>
<text x="206.276" y="244.100" font-size="7.057" font-weight="normal" fill="#151515" stroke="#151515" stroke-width="0.15">vinyl C=C</text>
<text x="238.782" y="295.600" font-size="6.795" font-weight="normal" fill="#151515" stroke="#151515" stroke-width="0.15">1653</text>
<text x="230.096" y="304.600" font-size="7.153" font-weight="normal" fill="#151515" stroke="#151515" stroke-width="0.15">arom. C-F</text>
<path d="M102.90,345.82 L103.65,345.47 L104.40,345.18 L105.15,344.72 L105.90,344.82 L106.65,344.59 L107.40,344.27 L108.15,345.31 L108.90,344.71 L109.65,345.75 L110.40,344.22 L111.15,345.94 L111.90,345.51 L112.65,345.97 L113.40,345.92 L114.15,345.92 L114.90,345.27 L115.65,344.15 L116.40,345.61 L117.15,344.46 L117.90,344.71 L118.65,345.44 L119.40,345.16 L120.15,344.93 L120.90,345.98 L121.65,345.33 L122.40,344.78 L123.15,344.60 L123.90,345.82 L124.65,345.05 L125.40,345.65 L126.15,344.79 L126.90,344.48 L127.65,345.15 L128.40,345.71 L129.15,344.41 L129.90,345.65 L130.65,345.91 L131.40,345.67 L132.15,345.70 L132.90,344.07 L133.65,345.30 L134.40,345.77 L135.15,344.14 L135.90,344.58 L136.65,344.56 L137.40,345.08 L138.15,344.86 L138.90,344.95 L139.65,345.56 L140.40,344.00 L141.15,344.10 L141.90,344.23 L142.65,344.22 L143.40,344.10 L144.15,345.90 L144.90,345.60 L145.65,343.61 L146.40,342.36 L147.15,337.44 L147.90,333.98 L148.65,336.20 L149.40,341.58 L150.15,344.21 L150.90,344.46 L151.65,344.19 L152.40,344.46 L153.15,344.03 L153.90,344.87 L154.65,345.17 L155.40,344.47 L156.15,343.84 L156.90,344.01 L157.65,344.36 L158.40,344.79 L159.15,345.10 L159.90,344.26 L160.65,345.05 L161.40,344.64 L162.15,344.20 L162.90,344.01 L163.65,344.19 L164.40,344.51 L165.15,343.85 L165.90,344.28 L166.65,343.66 L167.40,343.00 L168.15,343.20 L168.90,342.89 L169.65,340.72 L170.40,340.36 L171.15,339.34 L171.90,339.28 L172.65,338.18 L173.40,335.23 L174.15,333.63 L174.90,329.91 L175.65,324.55 L176.40,319.93 L177.15,313.64 L177.90,309.05 L178.65,302.71 L179.40,297.49 L180.15,292.47 L180.90,288.74 L181.65,287.18 L182.40,287.32 L183.15,289.36 L183.90,295.30 L184.65,300.39 L185.40,307.49 L186.15,315.52 L186.90,320.33 L187.65,325.90 L188.40,330.46 L189.15,335.63 L189.90,336.96 L190.65,338.65 L191.40,341.71 L192.15,341.25 L192.90,343.37 L193.65,343.49 L194.40,344.14 L195.15,344.60 L195.90,344.03 L196.65,344.61 L197.40,343.19 L198.15,344.75 L198.90,344.32 L199.65,344.80 L200.40,343.64 L201.15,344.98 L201.90,345.41 L202.65,343.70 L203.40,344.27 L204.15,344.79 L204.90,345.35 L205.65,344.21 L206.40,344.11 L207.15,344.28 L207.90,345.03 L208.65,345.33 L209.40,344.62 L210.15,344.58 L210.90,344.62 L211.65,344.45 L212.40,344.36 L213.15,343.12 L213.90,342.72 L214.65,341.23 L215.40,335.74 L216.15,329.31 L216.90,317.76 L217.65,305.25 L218.40,289.71 L219.15,273.93 L219.90,260.92 L220.65,253.81 L221.40,253.62 L222.15,256.32 L222.90,259.00 L223.65,264.75 L224.40,273.23 L225.15,281.61 L225.90,289.29 L226.65,297.62 L227.40,306.30 L228.15,312.72 L228.90,319.53 L229.65,325.11 L230.40,330.64 L231.15,333.95 L231.90,336.80 L232.65,340.03 L233.40,342.26 L234.15,342.18 L234.90,343.87 L235.65,343.88 L236.40,345.16 L237.15,344.88 L237.90,344.41 L238.65,344.41 L239.40,344.08 L240.15,345.03 L240.90,344.86 L241.65,344.45 L242.40,344.84 L243.15,344.77 L243.90,345.67 L244.65,344.42 L245.40,346.11 L246.15,345.09 L246.90,345.33 L247.65,345.07 L248.40,345.81 L249.15,345.78 L249.90,345.25 L250.65,345.10 L251.40,345.58 L252.15,345.86 L252.90,344.95 L253.65,345.61 L254.40,346.07 L255.15,345.08 L255.90,344.61 L256.65,344.62 L257.40,345.59 L258.15,345.50 L258.90,346.07 L259.65,345.86 L260.40,344.64 L261.15,344.54 L261.90,344.67 L262.65,344.53 L263.40,345.57 L264.15,345.88 L264.90,345.96 L265.65,344.67 L266.40,345.89 L267.15,344.79 L267.90,345.01 L268.65,345.62 L269.40,344.34 L270.15,344.35 L270.90,345.83 L271.65,344.75 L272.40,344.88 L273.15,345.33 L273.90,345.52 L274.65,344.18 L275.40,344.84 L276.15,345.04 L276.90,345.14 L277.65,344.59 L278.40,345.34 L279.15,346.08 L279.90,344.95 L280.65,345.26 L281.40,344.41 L282.15,344.72 L282.90,345.50 L283.65,344.40 L284.40,345.95 L285.15,345.99 L285.90,344.37 L286.65,346.06 L287.40,344.92 L288.15,345.72 L288.90,345.69 L289.65,344.77 L290.40,345.53 L291.15,345.48 L291.90,345.79 L292.65,344.71 L293.40,345.69 L294.15,346.10 L294.90,345.52 L295.65,345.25 L296.40,344.41 L297.15,345.17 L297.90,344.88 L298.65,345.62 L299.40,345.54 L300.15,345.31 L300.90,344.54 L301.65,345.47 L302.40,345.44 L303.15,344.54 L303.90,345.96" fill="none" stroke="#151515" stroke-width="1.20" stroke-linejoin="round" stroke-linecap="round" />
<path d="M102.90,344.61 L103.65,343.54 L104.40,345.16 L105.15,343.58 L105.90,343.95 L106.65,344.73 L107.40,344.48 L108.15,344.39 L108.90,344.58 L109.65,344.20 L110.40,343.90 L111.15,343.63 L111.90,343.41 L112.65,344.70 L113.40,344.78 L114.15,344.35 L114.90,344.74 L115.65,343.98 L116.40,343.79 L117.15,344.02 L117.90,344.99 L118.65,343.33 L119.40,344.25 L120.15,343.73 L120.90,344.77 L121.65,343.94 L122.40,343.89 L123.15,344.03 L123.90,344.30 L124.65,344.75 L125.40,343.91 L126.15,344.89 L126.90,343.42 L127.65,343.73 L128.40,343.38 L129.15,343.40 L129.90,344.73 L130.65,344.62 L131.40,343.53 L132.15,343.53 L132.90,343.98 L133.65,344.62 L134.40,344.76 L135.15,344.62 L135.90,344.29 L136.65,343.39 L137.40,343.89 L138.15,343.47 L138.90,344.13 L139.65,344.20 L140.40,343.45 L141.15,343.53 L141.90,344.58 L142.65,343.07 L143.40,344.60 L144.15,344.75 L144.90,344.77 L145.65,342.90 L146.40,339.86 L147.15,332.54 L147.90,327.04 L148.65,331.20 L149.40,338.40 L150.15,342.08 L150.90,344.34 L151.65,343.71 L152.40,343.92 L153.15,344.13 L153.90,342.65 L154.65,344.14 L155.40,343.88 L156.15,343.50 L156.90,343.51 L157.65,343.32 L158.40,342.73 L159.15,343.33 L159.90,342.28 L160.65,343.12 L161.40,343.32 L162.15,342.82 L162.90,342.95 L163.65,343.61 L164.40,343.34 L165.15,341.67 L165.90,342.80 L166.65,342.23 L167.40,340.73 L168.15,340.74 L168.90,339.47 L169.65,337.82 L170.40,337.54 L171.15,337.66 L171.90,336.07 L172.65,336.45 L173.40,334.57 L174.15,331.06 L174.90,329.29 L175.65,324.79 L176.40,320.69 L177.15,314.83 L177.90,308.90 L178.65,301.89 L179.40,296.78 L180.15,291.76 L180.90,287.81 L181.65,285.26 L182.40,286.50 L183.15,288.48 L183.90,291.79 L184.65,296.72 L185.40,302.36 L186.15,308.24 L186.90,313.58 L187.65,319.23 L188.40,324.05 L189.15,327.53 L189.90,330.48 L190.65,333.53 L191.40,334.91 L192.15,336.85 L192.90,338.70 L193.65,338.95 L194.40,339.24 L195.15,341.20 L195.90,341.02 L196.65,339.93 L197.40,339.24 L198.15,339.59 L198.90,340.75 L199.65,341.06 L200.40,341.16 L201.15,341.77 L201.90,342.98 L202.65,341.46 L203.40,341.15 L204.15,339.58 L204.90,339.93 L205.65,341.13 L206.40,342.39 L207.15,342.12 L207.90,341.85 L208.65,341.99 L209.40,342.03 L210.15,342.52 L210.90,341.37 L211.65,340.72 L212.40,340.51 L213.15,338.55 L213.90,336.03 L214.65,329.94 L215.40,323.84 L216.15,314.98 L216.90,303.82 L217.65,294.74 L218.40,283.34 L219.15,276.06 L219.90,274.27 L220.65,274.59 L221.40,278.21 L222.15,281.88 L222.90,286.82 L223.65,292.83 L224.40,300.71 L225.15,306.36 L225.90,313.66 L226.65,318.79 L227.40,324.84 L228.15,327.96 L228.90,331.50 L229.65,334.47 L230.40,337.86 L231.15,339.24 L231.90,339.97 L232.65,340.37 L233.40,342.08 L234.15,342.76 L234.90,341.52 L235.65,338.96 L236.40,336.40 L237.15,332.43 L237.90,327.19 L238.65,320.92 L239.40,315.61 L240.15,313.50 L240.90,313.57 L241.65,313.54 L242.40,317.73 L243.15,320.32 L243.90,325.05 L244.65,329.41 L245.40,333.29 L246.15,334.76 L246.90,337.94 L247.65,340.52 L248.40,342.60 L249.15,341.82 L249.90,342.82 L250.65,344.30 L251.40,343.03 L252.15,343.70 L252.90,343.66 L253.65,344.38 L254.40,344.90 L255.15,343.41 L255.90,344.56 L256.65,344.56 L257.40,344.77 L258.15,344.21 L258.90,344.96 L259.65,343.85 L260.40,343.96 L261.15,343.60 L261.90,344.71 L262.65,344.12 L263.40,343.70 L264.15,343.51 L264.90,344.61 L265.65,344.39 L266.40,344.61 L267.15,343.96 L267.90,344.17 L268.65,343.51 L269.40,344.63 L270.15,343.25 L270.90,344.15 L271.65,344.73 L272.40,344.58 L273.15,343.42 L273.90,343.70 L274.65,344.92 L275.40,344.52 L276.15,345.00 L276.90,344.99 L277.65,344.15 L278.40,345.04 L279.15,344.72 L279.90,343.92 L280.65,344.00 L281.40,343.41 L282.15,344.06 L282.90,345.18 L283.65,343.48 L284.40,344.41 L285.15,343.49 L285.90,343.44 L286.65,344.58 L287.40,343.76 L288.15,343.38 L288.90,343.59 L289.65,344.58 L290.40,344.46 L291.15,343.31 L291.90,343.75 L292.65,345.23 L293.40,343.74 L294.15,344.42 L294.90,344.14 L295.65,344.86 L296.40,344.51 L297.15,344.88 L297.90,344.38 L298.65,343.68 L299.40,343.66 L300.15,343.47 L300.90,344.96 L301.65,343.54 L302.40,343.36 L303.15,345.25 L303.90,343.71" fill="none" stroke="#1c1cb4" stroke-width="1.20" stroke-linejoin="round" stroke-linecap="round" />
<rect x="375.00" y="209.70" width="177.00" height="142.80" fill="none" stroke="#222222" stroke-width="1.20"/>
<line x1="372.40" y1="352.50" x2="375.00" y2="352.50" stroke="#222222" stroke-width="1.15"/>
<text x="365.816" y="2.470" font-size="6.958" font-weight="bold" fill="#1a1a1a" stroke="#1a1a1a" stroke-width="0.38" transform="translate(0,352.500) scale(1,1.100)">0</text>
<line x1="372.40" y1="330.11" x2="375.00" y2="330.11" stroke="#222222" stroke-width="1.15"/>
<text x="358.076" y="2.470" font-size="6.958" font-weight="bold" fill="#1a1a1a" stroke="#1a1a1a" stroke-width="0.38" transform="translate(0,330.110) scale(1,1.100)">250</text>
<line x1="372.40" y1="307.72" x2="375.00" y2="307.72" stroke="#222222" stroke-width="1.15"/>
<text x="358.076" y="2.470" font-size="6.958" font-weight="bold" fill="#1a1a1a" stroke="#1a1a1a" stroke-width="0.38" transform="translate(0,307.720) scale(1,1.100)">500</text>
<line x1="372.40" y1="285.33" x2="375.00" y2="285.33" stroke="#222222" stroke-width="1.15"/>
<text x="358.076" y="2.470" font-size="6.958" font-weight="bold" fill="#1a1a1a" stroke="#1a1a1a" stroke-width="0.38" transform="translate(0,285.330) scale(1,1.100)">750</text>
<line x1="372.40" y1="262.94" x2="375.00" y2="262.94" stroke="#222222" stroke-width="1.15"/>
<text x="354.207" y="2.470" font-size="6.958" font-weight="bold" fill="#1a1a1a" stroke="#1a1a1a" stroke-width="0.38" transform="translate(0,262.940) scale(1,1.100)">1000</text>
<line x1="372.40" y1="240.55" x2="375.00" y2="240.55" stroke="#222222" stroke-width="1.15"/>
<text x="354.207" y="2.470" font-size="6.958" font-weight="bold" fill="#1a1a1a" stroke="#1a1a1a" stroke-width="0.38" transform="translate(0,240.550) scale(1,1.100)">1250</text>
<line x1="372.40" y1="218.16" x2="375.00" y2="218.16" stroke="#222222" stroke-width="1.15"/>
<text x="354.207" y="2.470" font-size="6.958" font-weight="bold" fill="#1a1a1a" stroke="#1a1a1a" stroke-width="0.38" transform="translate(0,218.160) scale(1,1.100)">1500</text>
<line x1="373.50" y1="348.02" x2="375.00" y2="348.02" stroke="#222222" stroke-width="1.15"/>
<line x1="373.50" y1="343.54" x2="375.00" y2="343.54" stroke="#222222" stroke-width="1.15"/>
<line x1="373.50" y1="339.07" x2="375.00" y2="339.07" stroke="#222222" stroke-width="1.15"/>
<line x1="373.50" y1="334.59" x2="375.00" y2="334.59" stroke="#222222" stroke-width="1.15"/>
<line x1="373.50" y1="325.63" x2="375.00" y2="325.63" stroke="#222222" stroke-width="1.15"/>
<line x1="373.50" y1="321.15" x2="375.00" y2="321.15" stroke="#222222" stroke-width="1.15"/>
<line x1="373.50" y1="316.68" x2="375.00" y2="316.68" stroke="#222222" stroke-width="1.15"/>
<line x1="373.50" y1="312.20" x2="375.00" y2="312.20" stroke="#222222" stroke-width="1.15"/>
<line x1="373.50" y1="303.24" x2="375.00" y2="303.24" stroke="#222222" stroke-width="1.15"/>
<line x1="373.50" y1="298.76" x2="375.00" y2="298.76" stroke="#222222" stroke-width="1.15"/>
<line x1="373.50" y1="294.29" x2="375.00" y2="294.29" stroke="#222222" stroke-width="1.15"/>
<line x1="373.50" y1="289.81" x2="375.00" y2="289.81" stroke="#222222" stroke-width="1.15"/>
<line x1="373.50" y1="280.85" x2="375.00" y2="280.85" stroke="#222222" stroke-width="1.15"/>
<line x1="373.50" y1="276.37" x2="375.00" y2="276.37" stroke="#222222" stroke-width="1.15"/>
<line x1="373.50" y1="271.90" x2="375.00" y2="271.90" stroke="#222222" stroke-width="1.15"/>
<line x1="373.50" y1="267.42" x2="375.00" y2="267.42" stroke="#222222" stroke-width="1.15"/>
<line x1="373.50" y1="258.46" x2="375.00" y2="258.46" stroke="#222222" stroke-width="1.15"/>
<line x1="373.50" y1="253.98" x2="375.00" y2="253.98" stroke="#222222" stroke-width="1.15"/>
<line x1="373.50" y1="249.51" x2="375.00" y2="249.51" stroke="#222222" stroke-width="1.15"/>
<line x1="373.50" y1="245.03" x2="375.00" y2="245.03" stroke="#222222" stroke-width="1.15"/>
<line x1="373.50" y1="236.07" x2="375.00" y2="236.07" stroke="#222222" stroke-width="1.15"/>
<line x1="373.50" y1="231.59" x2="375.00" y2="231.59" stroke="#222222" stroke-width="1.15"/>
<line x1="373.50" y1="227.12" x2="375.00" y2="227.12" stroke="#222222" stroke-width="1.15"/>
<line x1="373.50" y1="222.64" x2="375.00" y2="222.64" stroke="#222222" stroke-width="1.15"/>
<line x1="373.50" y1="213.68" x2="375.00" y2="213.68" stroke="#222222" stroke-width="1.15"/>
<line x1="375.00" y1="352.50" x2="375.00" y2="355.10" stroke="#222222" stroke-width="1.15"/>
<text x="370.033" y="2.540" font-size="7.154" font-weight="bold" fill="#1a1a1a" stroke="#1a1a1a" stroke-width="0.38" transform="translate(0,360.400) scale(1,1.100)">0.0</text>
<line x1="410.40" y1="352.50" x2="410.40" y2="355.10" stroke="#222222" stroke-width="1.15"/>
<text x="405.429" y="2.540" font-size="7.154" font-weight="bold" fill="#1a1a1a" stroke="#1a1a1a" stroke-width="0.38" transform="translate(0,360.400) scale(1,1.100)">0.2</text>
<line x1="445.80" y1="352.50" x2="445.80" y2="355.10" stroke="#222222" stroke-width="1.15"/>
<text x="440.705" y="2.540" font-size="7.154" font-weight="bold" fill="#1a1a1a" stroke="#1a1a1a" stroke-width="0.38" transform="translate(0,360.400) scale(1,1.100)">0.4</text>
<line x1="481.20" y1="352.50" x2="481.20" y2="355.10" stroke="#222222" stroke-width="1.15"/>
<text x="476.215" y="2.540" font-size="7.154" font-weight="bold" fill="#1a1a1a" stroke="#1a1a1a" stroke-width="0.38" transform="translate(0,360.400) scale(1,1.100)">0.6</text>
<line x1="516.60" y1="352.50" x2="516.60" y2="355.10" stroke="#222222" stroke-width="1.15"/>
<text x="511.596" y="2.540" font-size="7.154" font-weight="bold" fill="#1a1a1a" stroke="#1a1a1a" stroke-width="0.38" transform="translate(0,360.400) scale(1,1.100)">0.8</text>
<line x1="552.00" y1="352.50" x2="552.00" y2="355.10" stroke="#222222" stroke-width="1.15"/>
<text x="546.949" y="2.540" font-size="7.154" font-weight="bold" fill="#1a1a1a" stroke="#1a1a1a" stroke-width="0.38" transform="translate(0,360.400) scale(1,1.100)">1.0</text>
<line x1="392.70" y1="352.50" x2="392.70" y2="354.00" stroke="#222222" stroke-width="1.15"/>
<line x1="428.10" y1="352.50" x2="428.10" y2="354.00" stroke="#222222" stroke-width="1.15"/>
<line x1="463.50" y1="352.50" x2="463.50" y2="354.00" stroke="#222222" stroke-width="1.15"/>
<line x1="498.90" y1="352.50" x2="498.90" y2="354.00" stroke="#222222" stroke-width="1.15"/>
<line x1="534.30" y1="352.50" x2="534.30" y2="354.00" stroke="#222222" stroke-width="1.15"/>
<text x="455.763" y="376.000" font-size="8.146" font-weight="bold" fill="#1a1a1a" stroke="#1a1a1a" stroke-width="0.25">p/p<tspan font-size="5.865" dy="-2.933">0</tspan></text>
<line x1="472.80" y1="374.00" x2="495.40" y2="374.00" stroke="#1a1a1a" stroke-width="1.40"/>
<path d="M501.90,374.00 L494.90,372.05 L494.90,375.95 Z" fill="#1a1a1a"/>
<text x="-0.056" y="0" font-size="8.141" font-weight="bold" fill="#1a1a1a" stroke="#1a1a1a" stroke-width="0.25" transform="translate(350.200,303.500) rotate(-90)">V<tspan font-size="4.885" dy="1.791">ads</tspan><tspan dy="-1.791">/ [cm</tspan><tspan font-size="4.885" dy="-3.094">3</tspan><tspan dy="3.094">/g]</tspan></text>
<line x1="347.20" y1="253.60" x2="347.20" y2="232.10" stroke="#1a1a1a" stroke-width="1.40"/>
<path d="M347.20,225.80 L345.25,232.60 L349.15,232.60 Z" fill="#1a1a1a"/>
<text x="379.412" y="223.200" font-size="12.495" font-weight="bold" fill="#1a1a1a" stroke="#1a1a1a" stroke-width="0.25">e)</text>
<path d="M376.40,339.30 C376.58,338.95 377.07,337.87 377.50,337.20 C377.93,336.53 378.42,335.90 379.00,335.30 C379.58,334.70 380.25,334.12 381.00,333.60 C381.75,333.08 382.58,332.65 383.50,332.20 C384.42,331.75 385.17,331.47 386.50,330.90 C387.83,330.33 389.37,329.63 391.50,328.80 C393.63,327.97 396.05,327.00 399.30,325.90 C402.55,324.80 407.22,323.45 411.00,322.20 C414.78,320.95 418.83,319.45 422.00,318.40 C425.17,317.35 427.00,316.78 430.00,315.90 C433.00,315.02 436.90,314.05 440.00,313.10 C443.10,312.15 446.20,310.83 448.60,310.20 C451.00,309.57 451.47,310.07 454.40,309.30 C457.33,308.53 461.55,307.38 466.20,305.60 C470.85,303.82 476.92,301.22 482.30,298.60 C487.68,295.98 493.60,292.52 498.50,289.90 C503.40,287.28 507.42,285.28 511.70,282.90 C515.98,280.52 520.38,277.85 524.20,275.60 C528.02,273.35 531.65,271.65 534.60,269.40 C537.55,267.15 540.00,264.53 541.90,262.10 C543.80,259.67 544.86,257.58 546.00,254.80 C547.14,252.02 548.05,249.05 548.75,245.40 C549.45,241.75 549.86,236.72 550.20,232.90 C550.54,229.08 550.70,224.23 550.80,222.50" fill="none" stroke="#151515" stroke-width="1.20" stroke-linejoin="round" stroke-linecap="round" />
<path d="M550.80,222.50 C550.70,222.57 550.54,221.52 550.20,222.90 C549.86,224.28 549.27,227.74 548.75,230.80 C548.23,233.86 547.73,238.30 547.10,241.25 C546.48,244.20 545.87,246.24 545.00,248.50 C544.13,250.76 543.47,252.72 541.90,254.80 C540.33,256.88 538.21,258.92 535.60,261.00 C532.99,263.08 529.55,265.38 526.25,267.30 C522.95,269.22 519.27,270.77 515.80,272.50 C512.32,274.23 508.87,275.97 505.40,277.70 C501.93,279.43 498.85,281.13 495.00,282.90 C491.15,284.67 486.13,286.65 482.30,288.30 C478.47,289.95 474.97,291.45 472.00,292.80 C469.03,294.15 466.55,295.13 464.50,296.40 C462.45,297.67 461.32,298.83 459.70,300.40 C458.08,301.97 456.42,304.33 454.80,305.80 C453.18,307.27 452.47,307.98 450.00,309.20 C447.53,310.42 443.33,311.98 440.00,313.10 C436.67,314.22 433.00,315.02 430.00,315.90 C427.00,316.78 425.17,317.35 422.00,318.40 C418.83,319.45 414.78,320.95 411.00,322.20 C407.22,323.45 401.25,325.28 399.30,325.90" fill="none" stroke="#151515" stroke-width="1.20" stroke-linejoin="round" stroke-linecap="round" />
<path d="M376.40,343.80 C376.58,343.53 377.07,342.68 377.50,342.20 C377.93,341.72 378.42,341.30 379.00,340.90 C379.58,340.50 380.25,340.13 381.00,339.80 C381.75,339.47 382.58,339.20 383.50,338.90 C384.42,338.60 385.17,338.37 386.50,338.00 C387.83,337.63 389.25,337.27 391.50,336.70 C393.75,336.13 396.75,335.28 400.00,334.60 C403.25,333.92 407.33,333.30 411.00,332.60 C414.67,331.90 418.83,330.98 422.00,330.40 C425.17,329.82 427.00,329.55 430.00,329.10 C433.00,328.65 436.67,328.15 440.00,327.70 C443.33,327.25 446.98,326.78 450.00,326.40 C453.02,326.02 454.07,326.00 458.10,325.40 C462.13,324.80 468.82,323.90 474.20,322.80 C479.58,321.70 485.02,320.15 490.40,318.80 C495.78,317.45 501.12,316.00 506.50,314.70 C511.88,313.40 518.12,312.20 522.70,311.00 C527.28,309.80 530.90,308.63 534.00,307.50 C537.10,306.37 539.28,305.42 541.30,304.20 C543.32,302.98 544.90,301.82 546.10,300.20 C547.30,298.58 547.88,296.47 548.50,294.50 C549.12,292.53 549.58,289.42 549.80,288.40" fill="none" stroke="#1c1cb4" stroke-width="1.20" stroke-linejoin="round" stroke-linecap="round" />
<path d="M549.80,288.40 C549.73,288.43 549.87,287.72 549.40,288.60 C548.93,289.48 547.82,292.03 547.00,293.70 C546.18,295.37 545.58,297.12 544.50,298.60 C543.42,300.08 542.25,301.40 540.50,302.60 C538.75,303.80 536.97,304.77 534.00,305.80 C531.03,306.83 527.28,307.80 522.70,308.80 C518.12,309.80 511.88,310.82 506.50,311.80 C501.12,312.78 495.78,313.75 490.40,314.70 C485.02,315.65 478.65,316.73 474.20,317.50 C469.75,318.27 466.12,318.78 463.70,319.30 C461.28,319.82 461.18,319.93 459.70,320.60 C458.22,321.27 456.42,322.37 454.80,323.30 C453.18,324.23 452.47,325.47 450.00,326.20 C447.53,326.93 443.33,327.22 440.00,327.70 C436.67,328.18 433.00,328.65 430.00,329.10 C427.00,329.55 425.17,329.82 422.00,330.40 C418.83,330.98 414.67,331.90 411.00,332.60 C407.33,333.30 401.83,334.27 400.00,334.60" fill="none" stroke="#1c1cb4" stroke-width="1.20" stroke-linejoin="round" stroke-linecap="round" />
</svg>
</body></html>
